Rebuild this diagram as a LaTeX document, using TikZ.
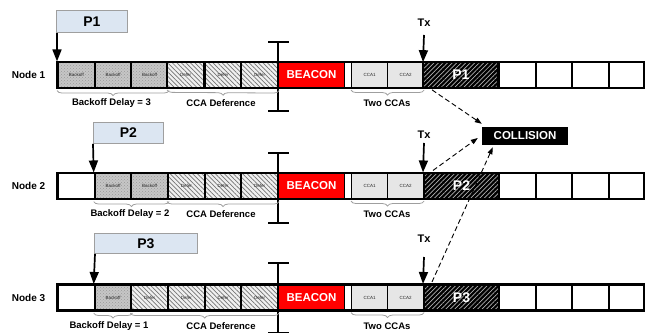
\documentclass[tikz,border=0pt]{standalone}
\usepackage{fontspec}
\setmainfont{Liberation Sans}
\usetikzlibrary{arrows.meta,patterns,patterns.meta,decorations.pathreplacing}

\tikzset{
  cellbox/.style={draw=black, line width=2.1pt, minimum height=26pt, inner sep=0pt, anchor=west,
    font=\fontsize{4.5}{5}\selectfont, text=black!85},
  whitecell/.style={cellbox, fill=white},
  backoffcell/.style={cellbox, minimum width=36.7pt, preaction={fill=gray!45},
    pattern=crosshatch dots, pattern color=black!40},
  defercell/.style={cellbox, minimum width=36.7pt, preaction={fill=gray!12},
    pattern={Lines[angle=-45,distance=3.2pt,line width=0.7pt]}, pattern color=black!55},
  ccacell/.style={cellbox, line width=1.1pt, minimum width=36pt, preaction={fill=gray!12},
    pattern={Dots[distance=2pt,radius=0.35pt]}, pattern color=black!50},
  gapcell/.style={cellbox, line width=1.1pt, fill=white, minimum width=7pt},
  beaconcell/.style={cellbox, fill=red, minimum width=67pt, text=white,
    font=\fontsize{11.5}{12}\selectfont\bfseries},
  pcell/.style={cellbox, minimum width=75pt, preaction={fill=black},
    pattern={Lines[angle=45,distance=3.2pt,line width=0.7pt]}, pattern color=gray!60,
    text=white, font=\fontsize{14}{15}\selectfont\bfseries},
  endcell/.style={whitecell, minimum width=36.5pt},
  leftwhite/.style={whitecell, minimum width=36.7pt},
  rowlabel/.style={font=\fontsize{10}{11}\selectfont\bfseries, inner sep=0pt},
  bracelabel/.style={font=\fontsize{9.5}{10}\selectfont\bfseries, inner sep=0pt},
  txlabel/.style={font=\fontsize{11}{12}\selectfont\bfseries, inner sep=0pt},
  pbox/.style={draw=gray!75, line width=0.8pt, fill={rgb,255:red,220;green,230;blue,242},
    anchor=north west, minimum height=21pt, inner sep=0pt,
    font=\fontsize{14}{15}\selectfont\bfseries},
  collbox/.style={fill=black, text=white, minimum width=86pt, minimum height=18pt, inner sep=0pt,
    font=\fontsize{11.5}{12}\selectfont\bfseries},
  bigarrow/.style={line width=1.7pt, -{Triangle[width=9pt,length=12pt]}},
  dasharrow/.style={line width=0.9pt, dash pattern=on 5pt off 3pt, -{Triangle[width=5pt,length=7pt]}},
  bracestyle/.style={draw=gray!75, line width=0.8pt, decorate,
    decoration={brace, mirror, amplitude=5pt}},
  ibar/.style={line width=1.8pt},
  outline/.style={line width=2.5pt},
}

\newcommand{\mkrowright}[3]{%
  \node[beaconcell] (#1bea) at (277,#2) {BEACON};
  \node[gapcell] (#1gap) at (344,#2) {};
  \node[ccacell] (#1ccaA) at (351,#2) {CCA1};
  \node[ccacell] (#1ccaB) at (387,#2) {CCA2};
  \node[pcell] (#1p) at (423,#2) {#3};
  \node[endcell] (#1wA) at (498,#2) {};
  \node[endcell] (#1wB) at (534.5,#2) {};
  \node[endcell] (#1wC) at (571,#2) {};
  \node[endcell] (#1wD) at (607.5,#2) {};
  \draw[outline] (57,#2-13) rectangle (644,#2+13);
}

\begin{document}
\begin{tikzpicture}[x=1pt,y=-1pt]
\useasboundingbox (0,0) rectangle (645,334);

% ---------- Row 1 ----------
\node[rowlabel] (n1) at (28.5,75) {Node 1};
\node[backoffcell] (r1c1) at (57,75) {Backoff};
\node[backoffcell] (r1c2) at (93.7,75) {Backoff};
\node[backoffcell] (r1c3) at (130.3,75) {Backoff};
\node[defercell] (r1c4) at (167,75) {Defer};
\node[defercell] (r1c5) at (203.7,75) {Defer};
\node[defercell] (r1c6) at (240.3,75) {Defer};
\mkrowright{r1}{75}{P1}

% ---------- Row 2 ----------
\node[rowlabel] (n2) at (28.5,186) {Node 2};
\node[leftwhite] (r2c1) at (57,186) {};
\node[backoffcell] (r2c2) at (93.7,186) {Backoff};
\node[backoffcell] (r2c3) at (130.3,186) {Backoff};
\node[defercell] (r2c4) at (167,186) {Defer};
\node[defercell] (r2c5) at (203.7,186) {Defer};
\node[defercell] (r2c6) at (240.3,186) {Defer};
\mkrowright{r2}{186}{P2}

% ---------- Row 3 ----------
\node[rowlabel] (n3) at (28.5,297.5) {Node 3};
\node[leftwhite] (r3c1) at (57,297.5) {};
\node[backoffcell] (r3c2) at (93.7,297.5) {Backoff};
\node[defercell] (r3c3) at (130.3,297.5) {Defer};
\node[defercell] (r3c4) at (167,297.5) {Defer};
\node[defercell] (r3c5) at (203.7,297.5) {Defer};
\node[defercell] (r3c6) at (240.3,297.5) {Defer};
\mkrowright{r3}{297.5}{P3}

% ---------- I-bars ----------
\draw[ibar] (278,42) -- (278,111);
\draw[ibar] (268,42) -- (289,42);
\draw[ibar] (268,111) -- (289,111);
\draw[ibar] (278,153) -- (278,223);
\draw[ibar] (268,153) -- (289,153);
\draw[ibar] (268,223) -- (289,223);
\draw[ibar] (278,263) -- (278,332.5);
\draw[ibar] (268,263) -- (289,263);
\draw[ibar] (268,332.5) -- (289,332.5);

% ---------- Braces ----------
\draw[bracestyle] ([yshift=-1.5pt]r1c1.south west) -- ([yshift=-1.5pt]r1c3.south east);
\draw[bracestyle] ([yshift=-1.5pt]r1c4.south west) -- ([yshift=-1.5pt]r1c6.south east);
\draw[bracestyle] ([yshift=-1.5pt]r1ccaA.south west) -- ([yshift=-1.5pt]r1ccaB.south east);
\node[bracelabel] (b1a) at (111.5,103.5) {Backoff Delay = 3};
\node[bracelabel] (b1b) at (221,103.5) {CCA Deference};
\node[bracelabel] (b1c) at (387,103.5) {Two CCAs};

\draw[bracestyle] ([yshift=-1.5pt]r2c2.south west) -- ([yshift=-1.5pt]r2c3.south east);
\draw[bracestyle] ([yshift=-1.5pt]r2c4.south west) -- ([yshift=-1.5pt]r2c6.south east);
\draw[bracestyle] ([yshift=-1.5pt]r2ccaA.south west) -- ([yshift=-1.5pt]r2ccaB.south east);
\node[bracelabel] (b2a) at (130,214.5) {Backoff Delay = 2};
\node[bracelabel] (b2b) at (221,214.5) {CCA Deference};
\node[bracelabel] (b2c) at (387,214.5) {Two CCAs};

\draw[bracestyle] ([yshift=-1.5pt]r3c2.south west) -- ([yshift=-1.5pt]r3c2.south east);
\draw[bracestyle] ([yshift=-1.5pt]r3c3.south west) -- ([yshift=-1.5pt]r3c6.south east);
\draw[bracestyle] ([yshift=-1.5pt]r3ccaA.south west) -- ([yshift=-1.5pt]r3ccaB.south east);
\node[bracelabel] (b3a) at (109,326.5) {Backoff Delay = 1};
\node[bracelabel] (b3b) at (221,326.5) {CCA Deference};
\node[bracelabel] (b3c) at (387,326.5) {Two CCAs};

% ---------- Packet boxes ----------
\node[pbox, minimum width=71pt, minimum height=22pt] (pk1) at (56,10) {P1};
\node[pbox, minimum width=70pt] (pk2) at (93,122) {P2};
\node[pbox, minimum width=103pt, minimum height=20pt] (pk3) at (94,233) {P3};
\draw[bigarrow] ([xshift=1pt]pk1.south west) -- ([yshift=-0.5pt]r1c1.north west);
\draw[bigarrow] (pk2.south west) -- ([yshift=-0.5pt]r2c2.north west);
\draw[bigarrow] ([xshift=1pt]pk3.south west) -- ([yshift=-0.5pt]r3c2.north west);

% ---------- Tx ----------
\node[txlabel] (tx1) at (424,23) {Tx};
\node[txlabel] (tx2) at (424,134.5) {Tx};
\node[txlabel] (tx3) at (424,239) {Tx};
\coordinate (tx1s) at (424,35);
\coordinate (tx2s) at (424,143);
\coordinate (tx3s) at (424,257);
\draw[bigarrow] (tx1s) -- ([yshift=-0.5pt]r1p.north west);
\draw[bigarrow] (tx2s) -- ([yshift=-0.5pt]r2p.north west);
\draw[bigarrow] (tx3s) -- ([yshift=-0.5pt]r3p.north west);

% ---------- Collision ----------
\node[collbox] (coll) at (525,136) {COLLISION};
\draw[dasharrow] ([xshift=9pt,yshift=-1.5pt]r1p.south west) -- ([yshift=3pt]coll.north west);
\draw[dasharrow] ([xshift=10pt,yshift=1.5pt]r2p.north west) -- ([xshift=-4pt,yshift=-2pt]coll.west);
\draw[dasharrow] ([xshift=9pt,yshift=1.5pt]r3p.north west) -- ([xshift=11pt,yshift=-2pt]coll.south west);
\end{tikzpicture}
\end{document}
